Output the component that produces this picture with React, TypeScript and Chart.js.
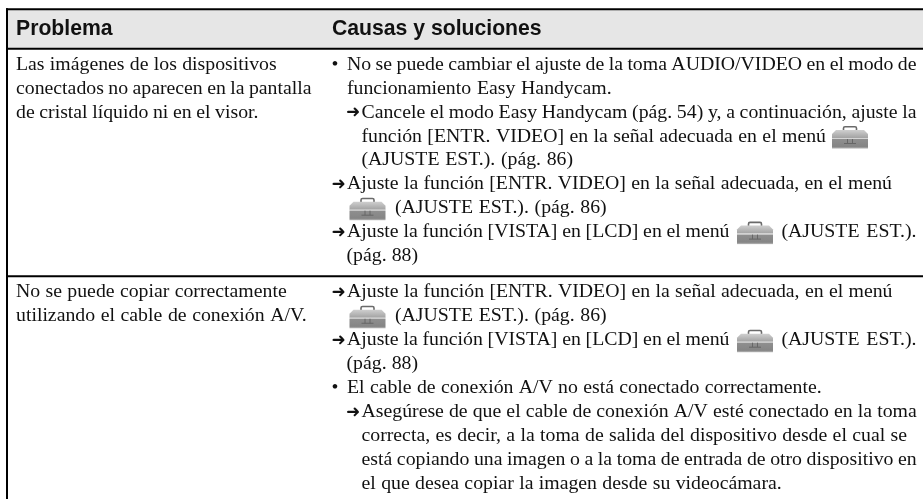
import React, { useEffect, useRef } from "react";
import { Chart, registerables } from "chart.js";

Chart.register(...registerables);

const W = 923;
const H = 499;

const headerLabels = ["Problema", "Causas y soluciones"];

const problemRow1 = [
  "Las imágenes de los dispositivos",
  "conectados no aparecen en la pantalla",
  "de cristal líquido ni en el visor.",
];
const problemRow2 = [
  "No se puede copiar correctamente",
  "utilizando el cable de conexión A/V.",
];

// {i} marks the toolbox icon inside a sentence
const causesRow1 = [
  "No se puede cambiar el ajuste de la toma AUDIO/VIDEO en el modo de",
  "funcionamiento Easy Handycam.",
  "Cancele el modo Easy Handycam (pág. 54) y, a continuación, ajuste la",
  "función [ENTR. VIDEO] en la señal adecuada en el menú {i}",
  "(AJUSTE EST.). (pág. 86)",
  "Ajuste la función [ENTR. VIDEO] en la señal adecuada, en el menú",
  "{i} (AJUSTE EST.). (pág. 86)",
  "Ajuste la función [VISTA] en [LCD] en el menú {i} (AJUSTE EST.).",
  "(pág. 88)",
];
const causesRow2 = [
  "Ajuste la función [ENTR. VIDEO] en la señal adecuada, en el menú",
  "{i} (AJUSTE EST.). (pág. 86)",
  "Ajuste la función [VISTA] en [LCD] en el menú {i} (AJUSTE EST.).",
  "(pág. 88)",
  "El cable de conexión A/V no está conectado correctamente.",
  "Asegúrese de que el cable de conexión A/V esté conectado en la toma",
  "correcta, es decir, a la toma de salida del dispositivo desde el cual se",
  "está copiando una imagen o a la toma de entrada de otro dispositivo en",
  "el que desea copiar la imagen desde su videocámara.",
];

/* ---------- layout, kept apart from the content ---------- */
type Layout = { m?: "b" | "a"; spans: [number, number][]; icons?: number[] };

const headerX = [16, 332];
const headerBaseline = 34.5;
const rules = [9.3, 48.8, 276.2];
const ruleWidth = 2;
const leftRuleX = 7;
const headerBand = [10, 48];

const problemEndsRow1 = [276.7, 311.5, 258.5];
const problemEndsRow2 = [286.7, 306.7];
const problemX = 16;

const layoutRow1: Layout[] = [
  { m: "b", spans: [[347, 916.5]] },
  { spans: [[347, 611.7]] },
  { m: "a", spans: [[361.5, 916.5]] },
  { spans: [[361.5, 826]], icons: [832] },
  { spans: [[361.5, 573]] },
  { m: "a", spans: [[347, 892]] },
  { spans: [[395, 606.7]], icons: [349.5] },
  { m: "a", spans: [[347, 729.5], [781.5, 916.5]], icons: [737] },
  { spans: [[346.5, 418]] },
];
const layoutRow2: Layout[] = [
  { m: "a", spans: [[347, 892.5]] },
  { spans: [[395, 606.7]], icons: [349.5] },
  { m: "a", spans: [[347, 729.5], [781.5, 916.5]], icons: [737] },
  { spans: [[346.5, 418]] },
  { m: "b", spans: [[347, 821.7]] },
  { m: "a", spans: [[361.5, 916.7]] },
  { spans: [[361.5, 907]] },
  { spans: [[361.5, 916.7]] },
  { spans: [[361.5, 781.7]] },
];

const baseRow1 = 69.8;
const baseRow2 = 297.3;
const pitch1 = 23.9;
const pitch2 = 23.95;
const textColor = "#111";
const bodyFont = '19.8px "Liberation Serif"';
const headFont = 'bold 21.2px "Liberation Sans"';
const arrowFont = '17px "DejaVu Sans"';
const softness = "blur(0.3px)";

function drawIcon(ctx: CanvasRenderingContext2D, x: number, base: number) {
  const top = base - 15.5;
  ctx.save();
  // handle
  ctx.strokeStyle = "#6a6a6a";
  ctx.lineWidth = 1.6;
  ctx.beginPath();
  ctx.roundRect(x + 11.5, top + 0.8, 13, 6, 1.5);
  ctx.stroke();
  // lid
  const lid = ctx.createLinearGradient(0, top + 4, 0, top + 12);
  lid.addColorStop(0, "#cfcfcf");
  lid.addColorStop(1, "#a2a2a2");
  ctx.fillStyle = lid;
  ctx.beginPath();
  ctx.moveTo(x + 4, top + 4);
  ctx.lineTo(x + 32, top + 4);
  ctx.lineTo(x + 36, top + 8);
  ctx.lineTo(x + 36, top + 12);
  ctx.lineTo(x, top + 12);
  ctx.lineTo(x, top + 8);
  ctx.closePath();
  ctx.fill();
  // seam
  ctx.fillStyle = "#d4d4d4";
  ctx.fillRect(x, top + 12, 36, 1);
  // body
  const body = ctx.createLinearGradient(0, top + 13, 0, top + 22);
  body.addColorStop(0, "#8f8f8f");
  body.addColorStop(0.85, "#858585");
  body.addColorStop(1, "#aaaaaa");
  ctx.fillStyle = body;
  ctx.fillRect(x, top + 13, 36, 9.5);
  // latch
  ctx.strokeStyle = "#666";
  ctx.lineWidth = 1;
  ctx.beginPath();
  ctx.moveTo(x + 12, top + 17.5);
  ctx.lineTo(x + 24, top + 17.5);
  ctx.moveTo(x + 15.5, top + 13);
  ctx.lineTo(x + 15.5, top + 17.5);
  ctx.moveTo(x + 20.5, top + 13);
  ctx.lineTo(x + 20.5, top + 17.5);
  ctx.stroke();
  ctx.restore();
}

function fitText(ctx: CanvasRenderingContext2D, t: string, x0: number, x1: number, y: number) {
  (ctx as any).wordSpacing = "0px";
  const natural = ctx.measureText(t).width;
  const spaces = (t.match(/ /g) || []).length;
  const extra = spaces ? (x1 - x0 - natural) / spaces : 0;
  (ctx as any).wordSpacing = `${extra}px`;
  ctx.fillText(t, x0, y);
  (ctx as any).wordSpacing = "0px";
}

function drawCause(ctx: CanvasRenderingContext2D, text: string, l: Layout, y: number) {
  ctx.font = bodyFont;
  const first = l.spans[0][0];
  if (l.m === "b") ctx.fillText("•", first - 15.5, y);
  if (l.m === "a") {
    ctx.font = arrowFont;
    ctx.fillText("➜", first - 15.5, y - 0.5);
    ctx.font = bodyFont;
  }
  const parts = text.split("{i}").map((p) => p.trim()).filter(Boolean);
  parts.forEach((p, i) => fitText(ctx, p, l.spans[i][0], l.spans[i][1], y));
  (l.icons || []).forEach((ix) => drawIcon(ctx, ix, y));
}

const tablePlugin = {
  id: "tableText",
  afterDatasetsDraw(chart: any) {
    const { ctx, scales } = chart;
    const px = (v: number) => scales.x.getPixelForValue(v);
    const py = (v: number) => scales.y.getPixelForValue(v);
    ctx.save();
    ctx.fillStyle = textColor;
    ctx.textBaseline = "alphabetic";
    ctx.filter = softness;
    ctx.font = headFont;
    headerLabels.forEach((t, i) => ctx.fillText(t, px(headerX[i]), py(headerBaseline)));
    ctx.font = bodyFont;
    problemRow1.forEach((t, i) =>
      fitText(ctx, t, px(problemX), px(problemEndsRow1[i]), py(baseRow1 + i * pitch1)),
    );
    problemRow2.forEach((t, i) =>
      fitText(ctx, t, px(problemX), px(problemEndsRow2[i]), py(baseRow2 + i * pitch2)),
    );
    causesRow1.forEach((t, i) => drawCause(ctx, t, layoutRow1[i], py(baseRow1 + i * pitch1)));
    causesRow2.forEach((t, i) => drawCause(ctx, t, layoutRow2[i], py(baseRow2 + i * pitch2)));
    ctx.restore();
  },
};

export default function App() {
  const ref = useRef<HTMLCanvasElement>(null);
  useEffect(() => {
    document.body.style.margin = "0";
    const mid = (headerBand[0] + headerBand[1]) / 2;
    const chart = new Chart(ref.current!, {
      type: "line",
      data: {
        datasets: [
          {
            label: "header",
            data: [
              { x: leftRuleX, y: mid },
              { x: W, y: mid },
            ],
            borderColor: "#e6e6e6",
            borderWidth: headerBand[1] - headerBand[0],
            pointRadius: 0,
            borderCapStyle: "butt",
            order: 5,
          },
          ...rules.map((y) => ({
            label: "rule",
            data: [
              { x: leftRuleX - 1, y },
              { x: W, y },
            ],
            borderColor: "#000",
            borderWidth: ruleWidth,
            pointRadius: 0,
            borderCapStyle: "butt" as const,
          })),
          {
            label: "left",
            data: [
              { x: leftRuleX, y: rules[0] - 1 },
              { x: leftRuleX, y: H },
            ],
            borderColor: "#000",
            borderWidth: ruleWidth,
            pointRadius: 0,
            borderCapStyle: "butt",
          },
        ],
      },
      options: {
        responsive: false,
        animation: false,
        layout: { padding: 0 },
        plugins: { legend: { display: false }, tooltip: { enabled: false } },
        scales: {
          x: { type: "linear", min: 0, max: W, display: false },
          y: { type: "linear", min: 0, max: H, reverse: true, display: false },
        },
      },
      plugins: [tablePlugin],
    } as any);
    return () => chart.destroy();
  }, []);
  return <canvas ref={ref} width={W} height={H} style={{ display: "block" }} />;
}
